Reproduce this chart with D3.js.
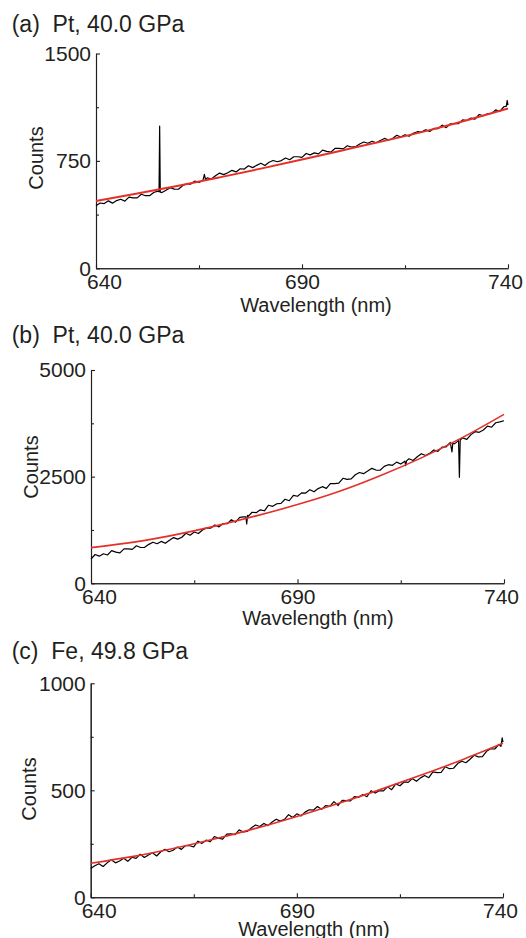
<!DOCTYPE html>
<html>
<head>
<meta charset="utf-8">
<script src="https://cdn.jsdelivr.net/npm/d3@7"></script>
<style>
body { margin: 0; background: #fff; }
svg { display: block; font-family: "Liberation Sans", Arial, sans-serif; }
.axis path, .axis line { stroke: #231f20; stroke-width: 1.1; }
.axis text { font-size: 21px; fill: #231f20; font-family: "Liberation Sans", Arial, sans-serif; }
</style>
</head>
<body>
<svg></svg>
<script>
// wavelength axis (nm), shared by all panels
var wlDomain = [640, 740];
var xMajor = [640, 690, 740];
var xMinor = [665, 715];

var titles = ["(a)  Pt, 40.0 GPa", "(b)  Pt, 40.0 GPa", "(c)  Fe, 49.8 GPa"];
var yMax = [1500, 5000, 1000];
var yMajor = [[0, 750, 1500], [0, 2500, 5000], [0, 500, 1000]];
var yMinor = [[375, 1125], [1250, 3750], [250, 750]];

// measured spectra [wavelength, counts]
var specA = [[640,437],[641,456],[642,452],[643,471],[644,455],[645,473],[646,482],[647,469],[648,497],[649,492],[650,492],[651,517],[652,507],[653,507],[654,529],[655,539],[655.3,534],[655.45,993],[655.6,532],[656,529],[657,545],[658,563],[659,553],[660,552],[661,577],[662,590],[663,588],[664,609],[665,599],[666,617],[666.3,656],[666.6,620],[667,632],[668,623],[669,646],[670,665],[671,654],[672,667],[673,684],[674,673],[675,695],[676,693],[677,716],[678,703],[679,719],[680,733],[681,718],[682,741],[683,753],[684,744],[685,752],[686,770],[687,758],[688,779],[689,779],[690,775],[691,802],[692,792],[693,806],[694,799],[695,825],[696,817],[697,811],[698,837],[699,837],[700,834],[701,856],[702,847],[703,849],[704,868],[705,882],[706,873],[707,887],[708,877],[709,893],[710,907],[711,896],[712,906],[713,929],[714,916],[715,933],[716,922],[717,943],[718,954],[719,951],[720,968],[721,956],[722,977],[723,975],[724,1000],[725,982],[726,1009],[727,1011],[728,1011],[729,1036],[730,1032],[731,1049],[732,1042],[733,1074],[734,1065],[735,1079],[736,1082],[737,1106],[738,1096],[739,1128],[739.6,1132],[739.8,1172],[740,1140]];

var specB = [[640,569],[641,675],[642,636],[643,692],[644,663],[645,765],[646,731],[647,712],[648,808],[649,809],[650,795],[651,880],[652,839],[653,844],[654,913],[655,963],[656,928],[657,982],[658,937],[659,1011],[660,1071],[661,1035],[662,1079],[663,1173],[664,1128],[665,1202],[666,1166],[667,1250],[668,1300],[669,1294],[670,1368],[671,1322],[672,1402],[673,1396],[674,1490],[675,1432],[676,1544],[677,1556],[677.5,1560],[677.7,1390],[677.9,1592],[678,1563],[679,1665],[680,1656],[681,1723],[682,1700],[683,1830],[684,1805],[685,1865],[686,1875],[687,1970],[688,1935],[689,2060],[690,2040],[691,2120],[692,2115],[693,2195],[694,2145],[695,2220],[696,2265],[697,2225],[698,2340],[699,2338],[700,2350],[701,2462],[702,2435],[703,2448],[704,2545],[705,2597],[706,2570],[707,2630],[708,2695],[709,2655],[710,2650],[711,2740],[712,2780],[713,2765],[714,2840],[715,2796],[716,2862],[716.2,2760],[716.4,2870],[717,2919],[718,2880],[719,2966],[720,3038],[721,2994],[722,3045],[723,3126],[724,3092],[725,3194],[726,3200],[727,3301],[727.4,3080],[727.6,3290],[728,3268],[729,3344],[729.2,2485],[729.4,3360],[730,3410],[731,3375],[732,3485],[733,3554],[734,3539],[735,3594],[736,3684],[737,3659],[738,3763],[739,3783],[740,3810]];

var specC = [[640,135],[641,147],[642,157],[643,144],[644,161],[645,175],[646,161],[647,170],[648,182],[649,168],[650,187],[651,182],[652,201],[653,186],[654,198],[655,208],[656,193],[657,213],[658,224],[659,213],[660,220],[661,235],[662,224],[663,242],[664,241],[665,236],[666,262],[667,252],[668,267],[669,260],[670,284],[671,276],[672,272],[673,295],[674,296],[675,293],[676,315],[677,305],[678,308],[679,325],[680,338],[681,331],[682,345],[683,335],[684,352],[685,365],[686,356],[687,364],[688,386],[689,373],[690,390],[691,380],[692,398],[693,409],[694,407],[695,424],[696,411],[697,429],[698,425],[699,447],[700,429],[701,453],[702,452],[703,451],[704,471],[705,467],[706,480],[707,470],[708,498],[709,487],[710,498],[711,497],[712,516],[713,503],[714,530],[715,521],[716,539],[717,537],[718,555],[719,542],[720,558],[721,569],[722,559],[723,586],[724,583],[725,584],[726,610],[727,601],[728,603],[729,625],[730,636],[731,629],[732,645],[733,664],[734,656],[735,657],[736,682],[737,694],[738,693],[739,714],[739.5,705],[739.8,745],[740,725]];

// fitted curves (red)
var fitA = [[640,470],[650,522],[660,576],[670,635],[680,696],[690,760],[700,825],[710,890],[720,958],[730,1034],[740,1116]];
var fitB = [[640,836],[650,960],[660,1130],[670,1340],[680,1580],[690,1845],[700,2150],[710,2520],[720,2940],[730,3420],[740,3961]];
var fitC = [[640,159],[650,190],[660,228],[670,272],[680,322],[690,378],[700,438],[710,502],[720,570],[730,642],[740,720]];

var spectra = [specA, specB, specC];
var fits = [fitA, fitB, fitC];

var svg = d3.select("svg")
            .attr("width", 526)
            .attr("height", 938);

svg.append("rect").attr("width", 526).attr("height", 938).attr("fill", "#fff");

// page positions of each panel
var layout = [
    {left: 96, top: 53.5, right: 508, bottom: 268.3, titleY: 32, xlX: 316, xlY: 312, ylX: 43, ylY: 158},
    {left: 91, top: 370, right: 504, bottom: 583.3, titleY: 343, xlX: 318, xlY: 625, ylX: 37.5, ylY: 467},
    {left: 90.7, top: 683.3, right: 503, bottom: 897.3, titleY: 659, xlX: 314, xlY: 936, ylX: 36, ylY: 789}
];

layout.forEach(function(L, i) { drawPanel(i, L); });

function drawPanel(i, L) {
    var x = d3.scaleLinear().domain(wlDomain).range([L.left, L.right]);
    var y = d3.scaleLinear().domain([0, yMax[i]]).range([L.bottom, L.top]);

    //title
    svg.append("text")
        .attr("x", 11.7)
        .attr("y", L.titleY)
        .style("white-space", "pre")
        .style("font-size", "23px")
        .attr("fill", "#231f20")
        .text(titles[i]);

    //minor ticks
    svg.append("g")
        .attr("class", "axis")
        .attr("transform", "translate(0," + L.bottom + ")")
        .call(d3.axisBottom(x).tickValues(xMinor).tickSize(-3).tickSizeOuter(0).tickFormat(""));
    svg.append("g")
        .attr("class", "axis")
        .attr("transform", "translate(" + L.left + ",0)")
        .call(d3.axisLeft(y).tickValues(yMinor[i]).tickSize(-3).tickSizeOuter(0).tickFormat(""));

    //x axis
    var xa = svg.append("g")
        .attr("class", "axis")
        .attr("transform", "translate(0," + L.bottom + ")")
        .call(d3.axisBottom(x).tickValues(xMajor).tickSize(-4).tickSizeOuter(0).tickPadding(6).tickFormat(d3.format("d")));
    xa.selectAll("text")
        .attr("dx", function(d, k) { return k === 0 ? 8 : (k === xMajor.length - 1 ? -3 : 0); });

    //y axis
    svg.append("g")
        .attr("class", "axis")
        .attr("transform", "translate(" + L.left + ",0)")
        .call(d3.axisLeft(y).tickValues(yMajor[i]).tickSize(-4).tickSizeOuter(0).tickPadding(5).tickFormat(d3.format("d")));

    //axis titles
    svg.append("text")
        .attr("x", L.xlX)
        .attr("y", L.xlY)
        .attr("text-anchor", "middle")
        .style("font-size", "20px")
        .attr("fill", "#231f20")
        .text("Wavelength (nm)");

    svg.append("text")
        .attr("transform", "translate(" + L.ylX + "," + L.ylY + ") rotate(-90)")
        .attr("text-anchor", "middle")
        .style("font-size", "20px")
        .attr("fill", "#231f20")
        .text("Counts");

    var line = d3.line()
        .x(function(d) { return x(d[0]); })
        .y(function(d) { return y(d[1]); });

    var fitLine = d3.line()
        .curve(d3.curveNatural)
        .x(function(d) { return x(d[0]); })
        .y(function(d) { return y(d[1]); });

    svg.append("path")
        .datum(spectra[i])
        .attr("d", line)
        .attr("fill", "none")
        .attr("stroke", "#000")
        .attr("stroke-width", 1.2)
        .attr("stroke-linejoin", "round");

    svg.append("path")
        .datum(fits[i])
        .attr("d", fitLine)
        .attr("fill", "none")
        .attr("stroke", "#e5302a")
        .attr("stroke-width", i === 0 ? 2 : 1.6);
}
</script>
</body>
</html>
